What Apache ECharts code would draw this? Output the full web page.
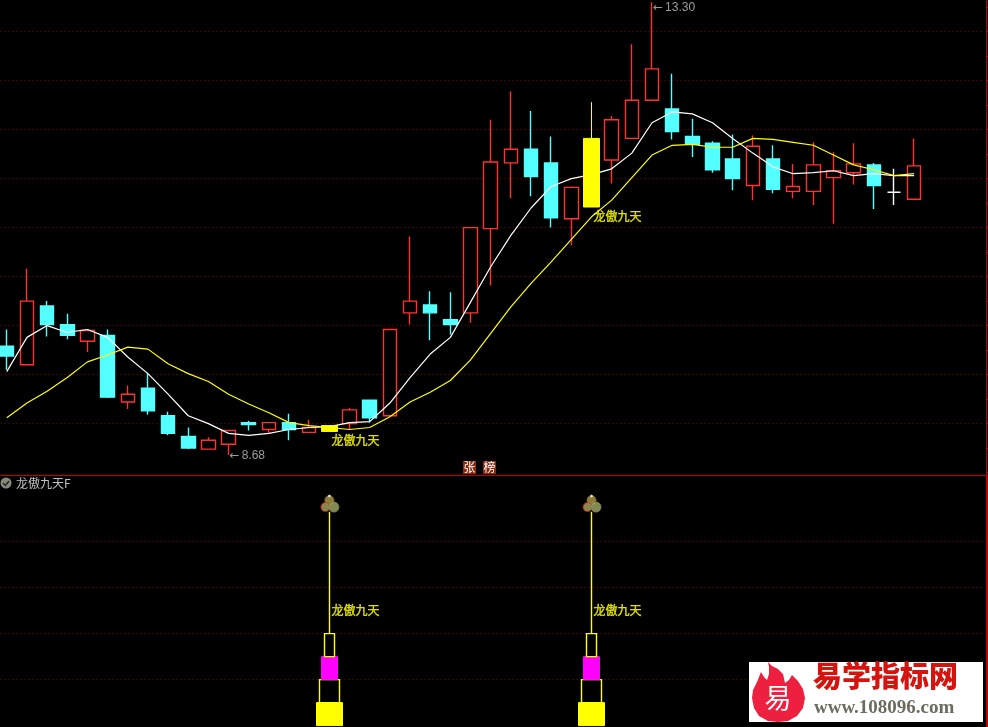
<!DOCTYPE html>
<html>
<head>
<meta charset="utf-8">
<style>html,body{margin:0;padding:0;background:#000;overflow:hidden}#c{width:988px;height:727px}</style>
<script src="https://cdn.jsdelivr.net/npm/echarts@6/dist/echarts.min.js"></script>
</head>
<body>
<div id="c"></div>
<script>
const opens  = [9.79,9.60,10.20,10.01,9.84,9.90,9.22,9.36,9.08,8.87,8.74,8.79,9.01,8.94,9.01,8.91,8.98,9.00,9.24,9.08,10.13,10.21,10.06,10.13,10.99,11.66,11.80,11.66,11.09,11.91,11.69,11.91,12.30,12.21,11.93,11.86,11.70,11.43,11.70,11.37,11.37,11.51,11.56,11.64,11.36,11.29];
const closes = [9.69,10.25,10.01,9.90,9.95,9.27,9.30,9.13,8.90,8.75,8.83,8.93,8.99,9.01,8.94,8.96,8.92,9.14,9.06,9.96,10.25,10.13,10.01,11.00,11.67,11.80,11.52,11.10,11.41,11.21,12.10,12.30,12.62,11.98,11.85,11.59,11.50,11.83,11.39,11.42,11.64,11.58,11.65,11.43,11.36,11.63];
const lows   = [9.55,9.60,9.89,9.86,9.73,9.26,9.15,9.09,8.88,8.74,8.74,8.68,8.93,8.90,8.83,8.91,8.92,8.94,9.01,9.08,10.01,9.85,9.91,10.03,10.41,11.30,11.32,11.00,10.82,11.21,11.45,11.91,12.30,11.90,11.72,11.56,11.38,11.28,11.35,11.30,11.23,11.04,11.44,11.19,11.23,11.28];
const highs  = [9.96,10.58,10.25,10.12,9.95,9.96,9.39,9.52,9.12,8.96,8.86,8.93,9.03,9.01,9.10,9.04,8.98,9.16,9.24,9.96,10.91,10.35,10.34,11.00,12.10,12.39,12.19,11.93,11.42,12.28,12.14,12.87,13.30,12.57,12.11,11.88,11.95,11.94,11.84,11.65,11.87,11.77,11.86,11.66,11.60,11.91];
const whiteLine  = [9.53,9.88,10.00,9.93,9.96,9.88,9.68,9.51,9.30,9.08,9.00,8.90,8.88,8.90,8.94,8.96,8.97,9.01,9.02,9.21,9.47,9.71,9.88,10.24,10.60,10.92,11.20,11.42,11.50,11.54,11.60,11.76,12.07,12.18,12.16,12.07,11.91,11.76,11.62,11.55,11.56,11.58,11.53,11.55,11.53,11.53];
const yellowLine = [9.06,9.21,9.33,9.47,9.63,9.70,9.78,9.76,9.61,9.51,9.43,9.30,9.20,9.11,9.01,8.98,8.96,8.94,8.96,9.07,9.22,9.32,9.44,9.65,9.92,10.19,10.43,10.65,10.88,11.11,11.28,11.51,11.74,11.84,11.85,11.82,11.82,11.91,11.90,11.87,11.84,11.74,11.64,11.59,11.53,11.55];
const signalIdx = [16, 29];
const dojiIdx = [44];
const signalText = '龙傲九天';
const indicatorName = '龙傲九天F';
const signalPriceLabelY = [8.83, 11.11];
const signalPanelLabelY = 2.51;
const highIdx = 32, highLabelY = 13.24, highText = '13.30';
const lowIdx = 11, lowLabelY = 8.67, lowText = '8.68';
const stackYellow = [0, 0.5];
const stackHollowLow = [0.5, 1];
const stackMagenta = [1, 1.5];
const stackHollowHigh = [1.5, 2];
const stemTop = 4.65;
const iconTipY = 4.99, iconTopY = 4.9, iconBottomY = 4.75;
const slotCount = 49;

const categories = Array.from({length: slotCount}, (_, i) => String(i));
const RED='#ff3232', CYAN='#54ffff', YELLOW='#ffff00', MAGENTA='#ff00ff', WHITE='#ffffff', GRID='#8c0000', AXIS='#c00000', GREY='#c0c0c0';
const CJK='"Noto Sans CJK SC","Noto Sans",sans-serif';
const blank=['-','-','-','-'];
const ohlc=i=>[opens[i],closes[i],lows[i],highs[i]];

const mainCandles = opens.map((_, i) => {
  if (signalIdx.includes(i)) return blank;
  if (dojiIdx.includes(i)) return {value: ohlc(i), itemStyle:{color:WHITE,color0:WHITE,borderColor:WHITE,borderColor0:WHITE}};
  return ohlc(i);
});
const sigCandles = opens.map((_, i) => signalIdx.includes(i) ? ohlc(i) : blank);
const stack = (range, top) => categories.map((_, i) => signalIdx.includes(i) ? [range[0], range[1], range[0], top === undefined ? range[1] : top] : blank);
const filledStack = (name, range, w, c) => ({name, type:'candlestick', xAxisIndex:1, yAxisIndex:1, barWidth:w, z:3, data:stack(range), itemStyle:{color:c,color0:c,borderColor:c,borderColor0:c,borderWidth:1}});
const hollowStack = (name, range, w, top) => ({name, type:'candlestick', xAxisIndex:1, yAxisIndex:1, barWidth:w, z:3, data:stack(range, top), itemStyle:{color:'#000',color0:'#000',borderColor:YELLOW,borderColor0:YELLOW,borderWidth:1.4}});
const labelled = (name, xi, data, color, fontFamily) => ({name, type:'scatter', xAxisIndex:xi, yAxisIndex:xi, symbolSize:0, z:6, data, silent:true, clip:false,
  label:{show:true, position:'right', distance:2, color, fontSize:12, fontFamily, textBorderColor:color, textBorderWidth:0.4, formatter:p=>p.data.t}});
const priceLabels = (name, data) => ({name, type:'scatter', xAxisIndex:0, yAxisIndex:0, symbolSize:0, z:6, data, silent:true, clip:false,
  label:{show:true, position:'right', distance:1, color:GREY, formatter:p=>'{a|←}{b|'+p.data.t+'}',
    rich:{a:{fontFamily:'"DejaVu Sans"', fontSize:12, color:GREY, padding:[0,2,0,0]}, b:{fontFamily:'"Liberation Sans"', fontSize:12, color:GREY}}}});
const ball = (name, y, off, size, fill, stroke) => ({name, type:'scatter', xAxisIndex:1, yAxisIndex:1, clip:false, z:5, symbol:'circle', symbolSize:size, symbolOffset:[off,0],
  data:signalIdx.map(i=>[i,y]), itemStyle:{color:fill, borderColor:stroke, borderWidth:1}});

const chart = echarts.init(document.getElementById('c'), null, {renderer:'canvas', width:988, height:727});
const yAxisBase = (gridIndex, min, max, interval) => ({gridIndex, type:'value', position:'right', min, max, interval, scale:false,
  axisLine:{show:false}, axisTick:{show:false}, axisLabel:{show:false},
  splitLine:{show:true, showMinLine:false, showMaxLine:false, lineStyle:{color:GRID, width:1, type:[1,3]}}});
const priceAxis = yAxisBase(0, 8.5, 13.5, 0.5);
priceAxis.offset = 2.3;
priceAxis.axisTick = {show:true, length:1, lineStyle:{color:AXIS}};
priceAxis.minorTick = {show:true, splitNumber:2, length:1, lineStyle:{color:AXIS}};
chart.setOption({
  animation:false,
  backgroundColor:'#000',
  grid:[
    {left:-3.3, width:988, top:-17.4, height:490, outerBoundsMode:'none', containLabel:false},
    {left:-3.3, width:988, top:495.6, height:230, outerBoundsMode:'none', containLabel:false}
  ],
  xAxis:[
    {gridIndex:0, type:'category', data:categories, show:false},
    {gridIndex:1, type:'category', data:categories, show:false}
  ],
  yAxis:[ priceAxis, yAxisBase(1, 0, 5, 1) ],
  series:[
    {name:'K', type:'candlestick', barWidth:14, z:2, data:mainCandles,
      itemStyle:{color:'#000', color0:CYAN, borderColor:RED, borderColor0:CYAN, borderWidth:1.4}},
    {name:'MA1', type:'line', data:whiteLine, symbol:'none', z:3, lineStyle:{color:WHITE,width:1.2}},
    {name:'MA2', type:'line', data:yellowLine, symbol:'none', z:3, lineStyle:{color:YELLOW,width:1.2}},
    {name:'signal', type:'candlestick', barWidth:17, z:4, data:sigCandles,
      itemStyle:{color:YELLOW,color0:YELLOW,borderColor:YELLOW,borderColor0:YELLOW,borderWidth:1}},
    labelled('signalText', 0, signalIdx.map((i,k)=>({value:[i,signalPriceLabelY[k]], t:signalText})), YELLOW, CJK),
    priceLabels('extremes', [{value:[highIdx,highLabelY], t:highText},{value:[lowIdx,lowLabelY], t:lowText}]),
    filledStack('stackYellow', stackYellow, 27, YELLOW),
    hollowStack('stackHollowLow', stackHollowLow, 21),
    filledStack('stackMagenta', stackMagenta, 17, MAGENTA),
    hollowStack('stackHollowHigh', stackHollowHigh, 10, stemTop),
    ball('iconTop', iconTopY, 0, 9, '#b39a4a', '#8a7a30'),
    ball('iconLeft', iconBottomY, -4, 9, '#a8a860', '#d01818'),
    ball('iconRight', iconBottomY, 4.5, 10, '#a3ab68', '#7f8a4c'),
    ball('iconTip', iconTipY, 0, 2, '#e8e8e8', '#e8e8e8'),
    labelled('panelText', 1, signalIdx.map(i=>({value:[i,signalPanelLabelY], t:signalText})), YELLOW, CJK)
  ],
  graphic:[
    {type:'rect', silent:true, z:20, shape:{x:0,y:475,width:988,height:1}, style:{fill:AXIS}},
    {type:'rect', silent:true, z:20, shape:{x:986,y:0,width:1,height:475}, style:{fill:AXIS}},
    {type:'rect', silent:true, z:20, shape:{x:986,y:475,width:2,height:252}, style:{fill:AXIS}},
    {type:'circle', silent:true, z:20, shape:{cx:6,cy:483,r:5.5}, style:{fill:'#8a8a7a'}},
    {type:'polyline', silent:true, z:21, shape:{points:[[3,483],[5.5,485.5],[9,481]]}, style:{stroke:'#222',fill:null,lineWidth:1.4}},
    {type:'text', silent:true, z:20, x:16, y:483, style:{text:indicatorName, fill:GREY, font:'12px '+CJK, textVerticalAlign:'middle'}},
    {type:'rect', silent:true, z:20, shape:{x:463,y:461,width:13,height:13}, style:{fill:'#8a2a10'}},
    {type:'text', silent:true, z:21, x:469.5, y:467.5, style:{text:'张', fill:'#fff', font:'12px '+CJK, textAlign:'center', textVerticalAlign:'middle'}},
    {type:'rect', silent:true, z:20, shape:{x:483,y:461,width:13,height:13}, style:{fill:'#8a2a10'}},
    {type:'text', silent:true, z:21, x:489.5, y:467.5, style:{text:'榜', fill:'#fff', font:'12px '+CJK, textAlign:'center', textVerticalAlign:'middle'}},
    {type:'rect', silent:true, z:30, shape:{x:749,y:662,width:234,height:60}, style:{fill:'#fff'}},
    {type:'polygon', silent:true, z:31, shape:{points:[[768,662],[772,666],[778,669],[783,674],[785,683],[789,680],[792,675],[798,681],[803,689],[805,698],[803,708],[797,716],[788,721],[778,722],[768,721],[759,716],[754,708],[752,698],[753,690],[757,682],[761,672],[764,677],[767,680],[769,674],[769,667]]}, style:{fill:'#ee2040'}},
    {type:'text', silent:true, z:32, x:778, y:698, style:{text:'易', fill:'#fff', font:'27px '+CJK, textAlign:'center', textVerticalAlign:'middle'}},
    {type:'text', silent:true, z:31, x:813, y:676, style:{text:'易学指标网', fill:'#d4140f', font:'900 29px '+CJK, textVerticalAlign:'middle'}},
    {type:'text', silent:true, z:31, x:814, y:708, style:{text:'www.108096.com', fill:'#6b6b5e', font:'bold 19px "Liberation Serif",serif', textVerticalAlign:'middle'}}
  ]
});
</script>
</body>
</html>
